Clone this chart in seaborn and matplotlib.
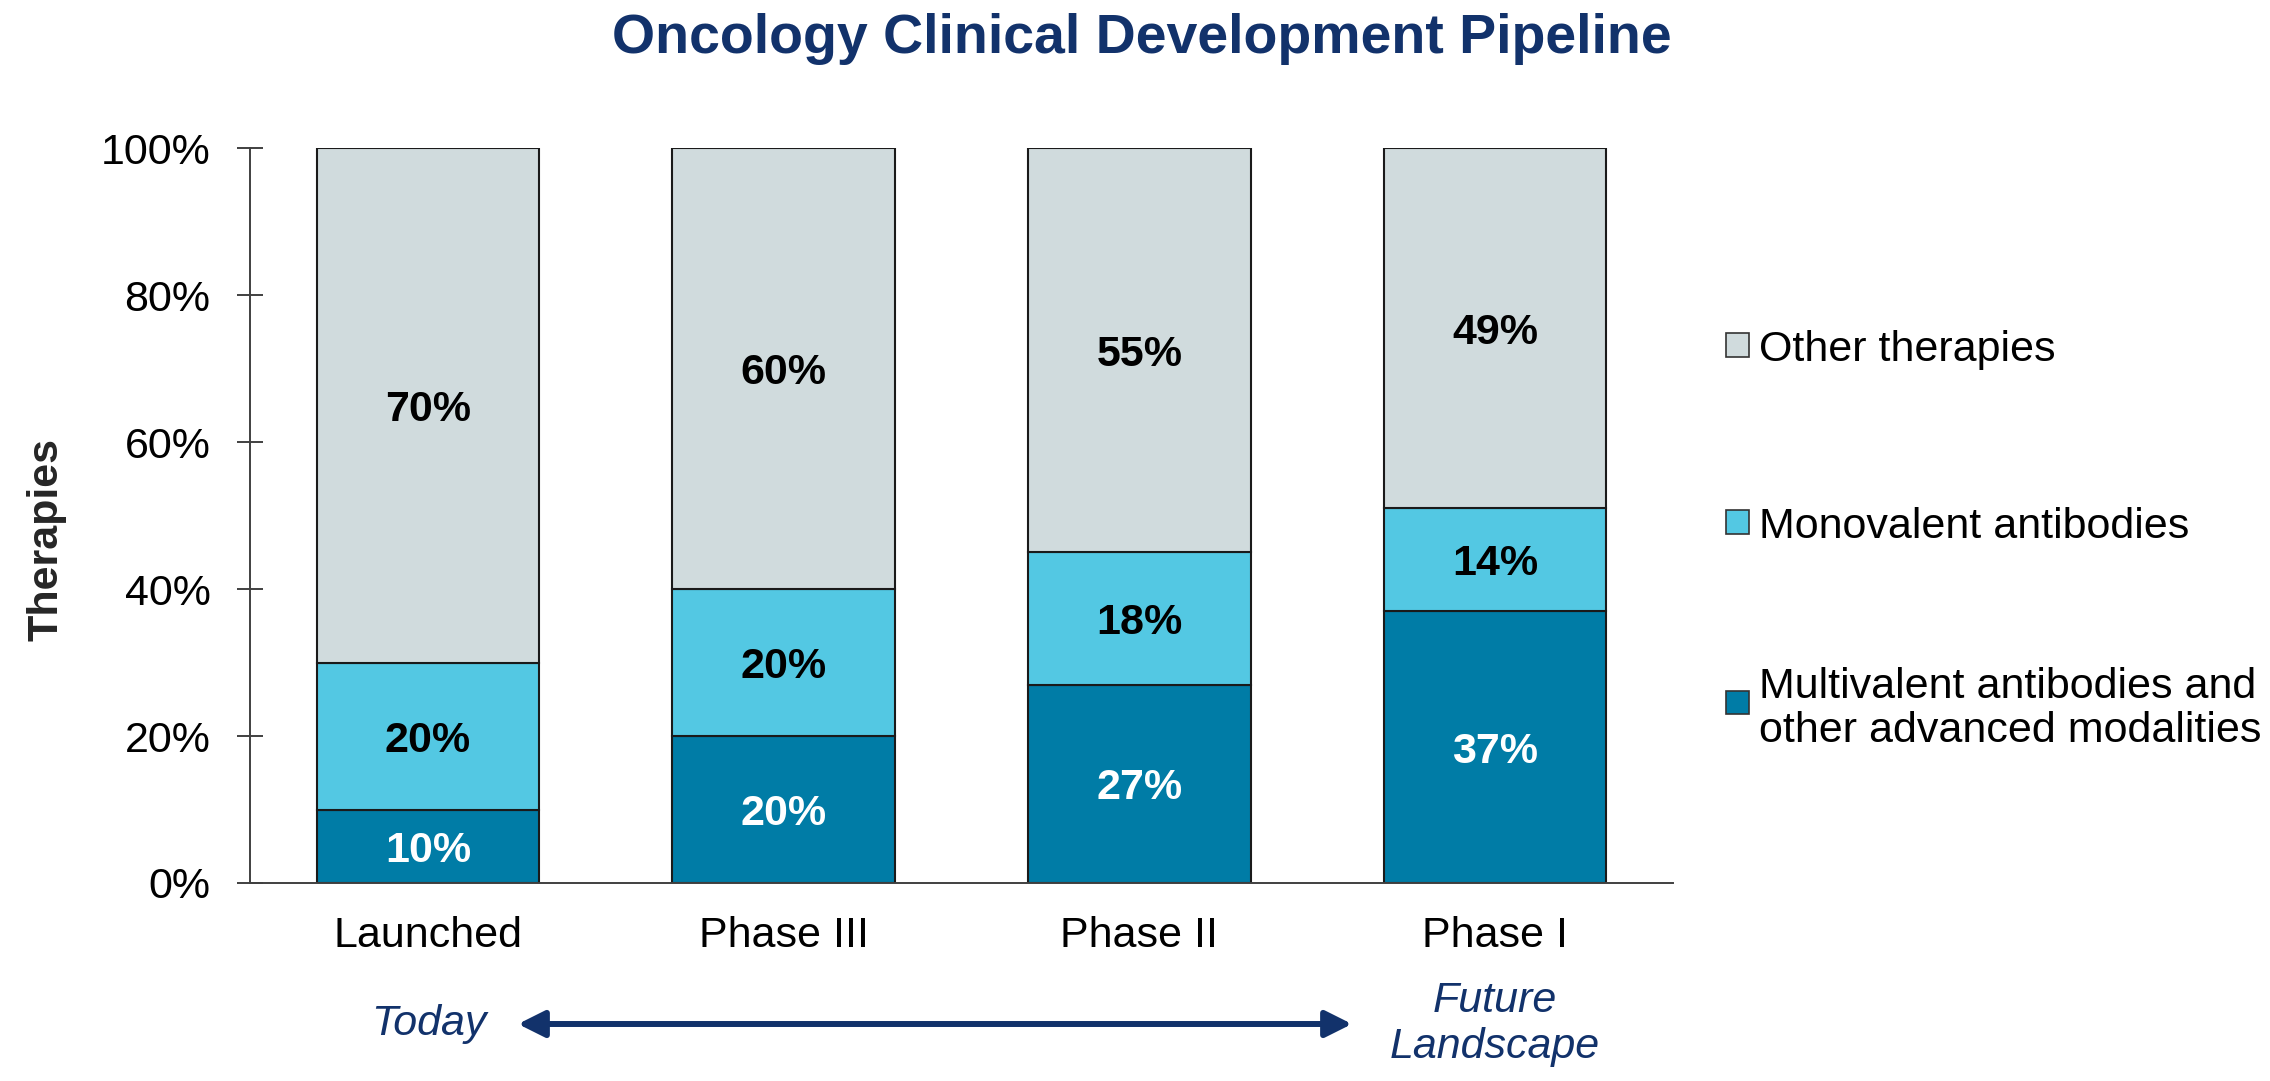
import matplotlib
matplotlib.use("Agg")
import matplotlib.pyplot as plt
from matplotlib.patches import Rectangle
from matplotlib.ticker import PercentFormatter
import seaborn as sns

sns.set_theme(style="ticks")
plt.rcParams["font.family"] = ["Liberation Sans", "DejaVu Sans"]

# ------------------------------------------------------------------ #
# DATA
# ------------------------------------------------------------------ #
stages = ["Launched", "Phase III", "Phase II", "Phase I"]
multivalent = [10, 20, 27, 37]
monovalent = [20, 20, 18, 14]
other = [70, 60, 55, 49]

series_names = ["Multivalent antibodies and\nother advanced modalities",
                "Monovalent antibodies",
                "Other therapies"]
series_colors = ["#007CA6", "#53C8E3", "#D0DBDD"]
label_colors = ["white", "black", "black"]
y_ticks = [0, 20, 40, 60, 80, 100]

NAVY = "#12326B"
AXIS_GREY = "#404040"
FS = 31

# ------------------------------------------------------------------ #
# PLOT
# ------------------------------------------------------------------ #
fig = plt.figure(figsize=(22.7, 10.81), dpi=100)
ax = fig.add_axes([250 / 2270, 1 - 883 / 1081, 1423 / 2270, 735 / 1081])

bottom = [0, 0, 0, 0]
for values, color, txt_color in zip([multivalent, monovalent, other],
                                    series_colors, label_colors):
    sns.barplot(x=stages, y=values, bottom=bottom, color=color, width=0.625,
                edgecolor="#1A1A1A", linewidth=1.5, saturation=1, ax=ax)
    cont = ax.containers[-1]
    texts = ax.bar_label(cont, labels=[f"{v}%" for v in values], label_type="center",
                         color=txt_color, fontsize=FS, fontweight="bold")
    for t in texts:
        t.set_verticalalignment("center_baseline")
    bottom = [b + v for b, v in zip(bottom, values)]

ax.set_xlim(-0.5, 3.5)
ax.set_ylim(0, 100)
ax.set_yticks(y_ticks)
ax.yaxis.set_major_formatter(PercentFormatter(decimals=0))
ax.set_xlabel("")
ax.set_ylabel("Therapies", fontsize=FS, fontweight="bold")
ax.yaxis.set_label_coords(-0.129, 0.467)

sns.despine(ax=ax)
for side in ["left", "bottom"]:
    ax.spines[side].set_color(AXIS_GREY)
    ax.spines[side].set_linewidth(1.4)
ax.tick_params(axis="y", direction="inout", length=19.4, width=1.4,
               color=AXIS_GREY, pad=18.7, labelsize=FS, labelcolor="black")
ax.tick_params(axis="x", length=0, pad=24, labelsize=FS, labelcolor="black")

# title
fig.text(0.503, 1 - 53 / 1081, "Oncology Clinical Development Pipeline",
         ha="center", va="baseline", fontsize=40, fontweight="bold", color=NAVY)

# timeline arrow along the bottom
y_arrow = 1 - 1024 / 1081
ax.annotate("", xy=(1352 / 2270, y_arrow), xytext=(518 / 2270, y_arrow),
            xycoords="figure fraction", textcoords="figure fraction",
            annotation_clip=False,
            arrowprops=dict(arrowstyle="<|-|>,head_length=0.8,head_width=0.4",
                            mutation_scale=20, lw=4.3, color=NAVY,
                            shrinkA=0, shrinkB=0))
fig.text(429 / 2270, y_arrow, "Today", ha="center", va="center",
         fontsize=FS, style="italic", color=NAVY)
fig.text(1495 / 2270, y_arrow, "Future\nLandscape", ha="center", va="center",
         fontsize=FS, style="italic", color=NAVY, linespacing=1.2)

# legend (top entry = top segment)
legend_y = [702, 522, 345]
for name, color, ypx in zip(series_names, series_colors, legend_y):
    yc = 1 - ypx / 1081
    fig.add_artist(Rectangle((1726 / 2270, yc - 11.5 / 1081), 23 / 2270, 23 / 1081,
                             transform=fig.transFigure, facecolor=color,
                             edgecolor="#333333", linewidth=1.2))
    fig.text(1759 / 2270, yc, name, ha="left", va="center_baseline",
             fontsize=FS, color="black", linespacing=1.13)

fig.savefig("out.png", dpi=100)
